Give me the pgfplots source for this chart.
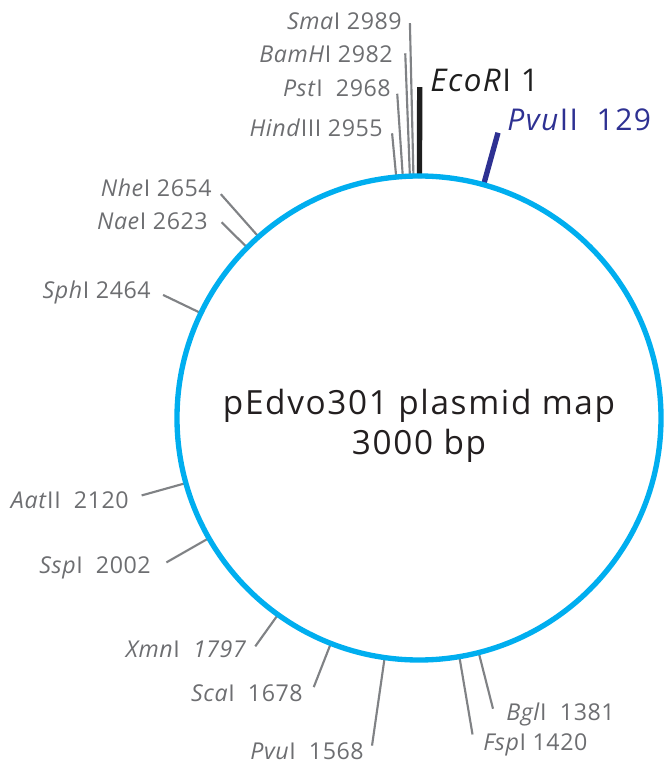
\documentclass[border=0pt]{standalone}
\usepackage{pgfplots}
\pgfplotsset{compat=1.18}
\usepackage{fontspec}
\setmainfont{Open Sans}
\newfontfamily\lab[LetterSpace=2.5]{Open Sans}
\newfontfamily\ctr[LetterSpace=5]{Open Sans}
\newfontfamily\bigf[LetterSpace=5]{Open Sans}
\definecolor{circ}{RGB}{0,174,239}
\definecolor{labgray}{RGB}{109,110,113}
\definecolor{linegray}{RGB}{128,130,133}
\definecolor{pvublue}{RGB}{46,49,146}
\definecolor{ecoblack}{RGB}{30,30,30}
\definecolor{ctrtext}{RGB}{35,31,32}
\tikzset{
  glab/.style={anchor=base east, inner sep=0pt, text=labgray, font=\lab\fontsize{17.4}{20}\selectfont},
  glabw/.style={anchor=base west, inner sep=0pt, text=labgray, font=\lab\fontsize{17.4}{20}\selectfont},
}
\begin{document}
\begin{tikzpicture}
\begin{axis}[
  x=0.75pt, y=0.75pt,
  xmin=-419, xmax=246, ymin=-347, ymax=418,
  hide axis, clip=false,
  every axis plot/.append style={data cs=polar},
]
\path (axis cs:-419,-347) rectangle (axis cs:246,418);
% gray sites: (angle = 90 - 0.12*position, radius)
\addplot[linegray, line width=1.6pt] coordinates {(91.32,240) (91.32,395)};   % SmaI 2989
\addplot[linegray, line width=1.6pt] coordinates {(92.16,240) (92.16,365)};   % BamHI 2982
\addplot[linegray, line width=1.6pt] coordinates {(93.84,240) (93.84,325)};   % PstI 2968
\addplot[linegray, line width=1.6pt] coordinates {(95.40,240) (95.40,286)};   % HindIII 2955
\addplot[linegray, line width=1.6pt] coordinates {(131.52,240) (131.52,299)}; % NheI 2654
\addplot[linegray, line width=1.6pt] coordinates {(135.24,240) (135.24,278)}; % NaeI 2623
\addplot[linegray, line width=1.6pt] coordinates {(154.32,240) (154.32,284)}; % SphI 2464
\addplot[linegray, line width=1.6pt] coordinates {(195.60,240) (195.60,288)}; % AatII 2120
\addplot[linegray, line width=1.6pt] coordinates {(209.76,240) (209.76,291)}; % SspI 2002
\addplot[linegray, line width=1.6pt] coordinates {(234.36,240) (234.36,281)}; % XmnI 1797
\addplot[linegray, line width=1.6pt] coordinates {(248.64,240) (248.64,289)}; % ScaI 1678
\addplot[linegray, line width=1.6pt] coordinates {(261.84,240) (261.84,331)}; % PvuI 1568
\addplot[linegray, line width=1.6pt] coordinates {(-80.40,240) (-80.40,321)}; % FspI 1420
\addplot[linegray, line width=1.6pt] coordinates {(-75.72,240) (-75.72,300)}; % BglI 1381
\addplot[ecoblack, line width=4pt] coordinates {(89.88,240) (89.88,331)};  % EcoRI 1
\addplot[pvublue, line width=4pt] coordinates {(74.52,240) (74.52,296)};   % PvuII 129
\draw[circ, line width=4pt] (axis cs:0,0) circle[radius=181.5pt];
% labels
\node[glab] at (axis cs:-17,388) {\textit{Sma}I 2989};
\node[glab] at (axis cs:-26,355) {\textit{BamH}I 2982};
\node[glab] at (axis cs:-28,321) {\textit{Pst}I\ \ 2968};
\node[glab] at (axis cs:-36,281) {\textit{Hind}III 2955};
\node[glab] at (axis cs:-207,221) {\textit{Nhe}I 2654};
\node[glab] at (axis cs:-211,188) {\textit{Nae}I 2623};
\node[glab] at (axis cs:-268,119) {\textit{Sph}I 2464};
\node[glab] at (axis cs:-290,-91) {\textit{Aat}II\ \ 2120};
\node[glab] at (axis cs:-268,-156) {\textit{Ssp}I\ \ 2002};
\node[glab] at (axis cs:-172,-240) {\textit{Xmn}I\ \ \textit{1797}};
\node[glab] at (axis cs:-116,-284) {\textit{Sca}I\ \ 1678};
\node[glab] at (axis cs:-55,-341) {\textit{Pvu}I\ \ 1568};
\node[glabw] at (axis cs:87,-302) {\textit{Bgl}I\ \ 1381};
\node[glabw] at (axis cs:64,-333) {\textit{Fsp}I 1420};
\node[anchor=base west, inner sep=0pt, text=ecoblack, font=\bigf\fontsize{23.5}{26}\selectfont] at (axis cs:11,326) {\textit{EcoR}I 1};
\node[anchor=base west, inner sep=0pt, text=pvublue, font=\bigf\fontsize{22.5}{26}\selectfont] at (axis cs:88,287) {\textit{Pvu}II\ \ 129};
\node[anchor=base, inner sep=0pt, text=ctrtext, font=\ctr\fontsize{25}{28}\selectfont] at (axis cs:0,3) {pEdvo301 plasmid map};
\node[anchor=base, inner sep=0pt, text=ctrtext, font=\ctr\fontsize{25}{28}\selectfont] at (axis cs:0,-37) {3000 bp};
\end{axis}
\end{tikzpicture}
\end{document}
